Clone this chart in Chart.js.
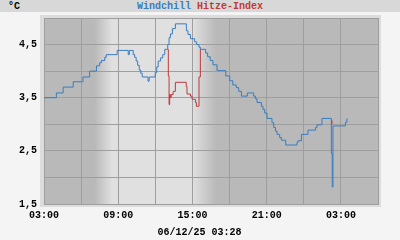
<!DOCTYPE html>
<html>
<head>
<meta charset="utf-8">
<script src="https://cdn.jsdelivr.net/npm/chart.js@4/dist/chart.umd.min.js"></script>
<style>
  html, body { margin:0; padding:0; background:#f4f4f4; width:400px; height:240px; overflow:hidden; }
  #wrap { position:relative; width:400px; height:240px; }
  #bar { position:absolute; left:0; top:0; width:400px; height:12px; background:#d8d8d8; }
  .txt { position:absolute; font-family:"Liberation Mono", monospace; font-weight:bold; font-size:10px; line-height:12px; white-space:pre; }
  #unit { left:8px; top:1px; color:#000; }
  #title { left:0; width:400px; top:1px; text-align:center; }
  #date { left:0; width:399px; top:227px; text-align:center; color:#000; }
  canvas { position:absolute; left:0; top:0; }
</style>
</head>
<body>
<div id="wrap">
  <div id="bar"></div>
  <div id="unit" class="txt">°C</div>
  <div id="title" class="txt"><span style="color:#3a7dbf">Windchill</span> <span style="color:#c03a3a">Hitze-Index</span></div>
  <canvas id="c" width="400" height="240"></canvas>
  <div id="date" class="txt">06/12/25 03:28</div>
</div>
<script>
// Hours after 03:00 of the first day
const windchillHours = [0.00,1.00,1.55,2.36,3.15,3.69,4.24,4.50,4.64,4.91,5.03,5.92,6.81,6.90,7.21,7.33,7.45,7.57,7.70,7.82,7.94,8.41,8.50,8.99,9.11,9.23,9.43,9.60,9.76,10.00,10.11,10.22,10.38,10.62,11.51,11.64,11.84,12.18,12.34,12.53,12.64,13.07,13.23,13.44,13.66,13.99,14.69,15.01,15.26,15.54,15.74,15.96,16.44,16.95,17.09,17.22,17.57,17.70,17.84,18.03,18.43,18.57,18.71,18.84,19.05,19.19,19.54,20.45,20.53,20.81,21.34,21.96,22.07,22.47,23.23,23.30,23.36,24.37,24.49];
const windchillValues = [3.50,3.59,3.70,3.80,3.89,4.00,4.10,4.16,4.20,4.26,4.31,4.39,4.31,4.39,4.31,4.26,4.19,4.11,4.02,3.96,3.89,3.81,3.89,3.97,4.08,4.19,4.25,4.31,4.41,4.50,4.63,4.70,4.80,4.89,4.76,4.69,4.61,4.55,4.50,4.45,4.41,4.34,4.27,4.20,4.12,4.01,3.91,3.82,3.74,3.69,3.62,3.53,3.59,3.53,3.48,3.41,3.34,3.28,3.21,3.11,3.03,2.94,2.87,2.81,2.75,2.70,2.61,2.66,2.69,2.81,2.89,2.94,2.99,3.11,2.45,1.82,2.97,3.04,3.11];
const hitzeHours = [10.03,10.05,10.11,10.16,10.22,10.28,10.44,10.62,11.50,11.56,11.84,11.97,12.24,12.32,12.53,12.64,18.00,23.22,23.28];
const hitzeValues = [4.41,3.91,3.37,3.56,3.50,3.56,3.62,3.79,3.71,3.57,3.53,3.47,3.41,3.34,3.89,4.41,null,3.07,3.00];
const xTickLabels = ['03:00','09:00','15:00','21:00','03:00'];
const yTickLabels = ['1,5','2,5','3,5','4,5'];
// dawn start, dawn end, dusk start, dusk end (hours after 03:00)
const twilight = [4.1, 5.5, 12.0, 13.9];

const toPts = (h, v) => h.map((x, i) => ({x: x, y: v[i]}));

const bgPlugin = {
  id: 'bg',
  beforeDraw(chart) {
    const {ctx, chartArea: a, scales: {x}} = chart;
    ctx.save();
    ctx.fillStyle = '#dcdcdc';
    ctx.fillRect(a.left - 4, a.top - 3, a.right - a.left + 7, a.bottom - a.top + 6);
    const w = a.right - a.left;
    const g = ctx.createLinearGradient(a.left, 0, a.right, 0);
    const dark = '#b9b9b9', light = '#e0e0e0';
    const f = t => Math.min(1, Math.max(0, (x.getPixelForValue(t) - a.left) / w));
    g.addColorStop(0, dark);
    g.addColorStop(f(twilight[0]), dark);
    g.addColorStop(f(twilight[1]), light);
    g.addColorStop(f(twilight[2]), light);
    g.addColorStop(f(twilight[3]), dark);
    g.addColorStop(1, dark);
    ctx.fillStyle = g;
    ctx.fillRect(a.left, a.top, w, a.bottom - a.top);
    ctx.restore();
  }
};

const font = {family: "'Liberation Mono', monospace", size: 10, weight: 'bold'};
new Chart(document.getElementById('c'), {
  type: 'line',
  data: {
    datasets: [
      { label: 'Windchill', data: toPts(windchillHours, windchillValues), borderColor: '#3a7dbf', borderWidth: 1, stepped: true, pointRadius: 0, order: 2 },
      { label: 'Hitze-Index', data: toPts(hitzeHours, hitzeValues), borderColor: '#c03a3a', borderWidth: 1, stepped: true, pointRadius: 0, spanGaps: false, order: 1 }
    ]
  },
  options: {
    responsive: false,
    animation: false,
    events: [],
    layout: { padding: { top: 18, right: 22, left: 0, bottom: 0 } },
    plugins: { legend: { display: false }, tooltip: { enabled: false }, title: { display: false } },
    scales: {
      x: {
        type: 'linear', min: 0, max: 27,
        afterFit: s => { s.height = 36; },
        grid: { color: '#9e9e9e', lineWidth: 1, drawTicks: false },
        border: { color: '#9e9e9e' },
        ticks: {
          stepSize: 3, autoSkip: false, maxRotation: 0, padding: 5, color: '#000', font: font,
          callback: v => (v % 6 === 0 ? xTickLabels[v / 6] : '')
        }
      },
      y: {
        min: 1.5, max: 5.0,
        afterFit: s => { s.width = 44; },
        grid: { color: '#9e9e9e', lineWidth: 1, drawTicks: false },
        border: { color: '#9e9e9e' },
        ticks: {
          stepSize: 0.5, autoSkip: false, padding: 7, color: '#000', font: font,
          callback: v => { const k = v - 1.5; return Math.abs(k - Math.round(k)) < 1e-6 ? yTickLabels[Math.round(k)] : ''; }
        }
      }
    }
  },
  plugins: [bgPlugin]
});
</script>
</body>
</html>
